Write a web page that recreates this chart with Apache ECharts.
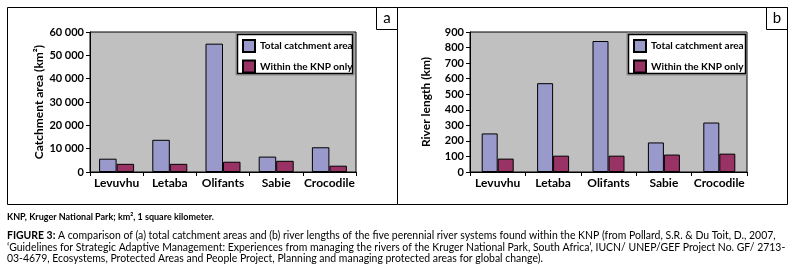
<!DOCTYPE html>
<html>
<head>
<meta charset="utf-8">
<script src="https://cdn.jsdelivr.net/npm/echarts@6/dist/echarts.min.js"></script>
<style>
  html, body { margin: 0; padding: 0; background: #fff; }
  #chart { width: 798px; height: 275px; }
</style>
</head>
<body>
<div id="chart"></div>
<script>
const rivers = ["Levuvhu", "Letaba", "Olifants", "Sabie", "Crocodile"];
const seriesNames = ["Total catchment area", "Within the KNP only"];

// (a) catchment area, km²
const areaTotal = [5700, 13800, 55000, 6600, 10600];
const areaKnp = [3500, 3500, 4400, 4800, 2700];

// (b) river length, km
const lengthTotal = [248, 571, 842, 190, 318];
const lengthKnp = [86, 105, 105, 112, 118];

const areaTicks = { min: 0, max: 60000, interval: 10000 };
const lengthTicks = { min: 0, max: 900, interval: 100 };

const footnote = "KNP, Kruger National Park; km², 1 square kilometer.";
const captionLines = [
  "A comparison of (a) total catchment areas and (b) river lengths of the five perennial river systems found within the KNP (from Pollard, S.R. & Du Toit, D., 2007,",
  "‘Guidelines for Strategic Adaptive Management: Experiences from managing the rivers of the Kruger National Park, South Africa’, IUCN/ UNEP/GEF Project No. GF/ 2713-",
  "03-4679, Ecosystems, Protected Areas and People Project, Planning and managing protected areas for global change)."
];

const colors = ["#9999CC", "#993366"];
const font = "Lato";

const chart = echarts.init(document.getElementById("chart"));

function xAxisFor(gridIndex) {
  return {
    type: "category",
    gridIndex,
    data: rivers,
    axisLine: { lineStyle: { color: "#000", width: 1 } },
    axisTick: { show: true, length: 4, lineStyle: { color: "#000" } },
    axisLabel: { interval: 0, color: "#000", fontFamily: font, fontWeight: "bold", fontSize: 12, margin: 5 }
  };
}

function yAxisFor(gridIndex, ticks, name, gap, fmt) {
  return {
    type: "value",
    gridIndex,
    min: ticks.min,
    max: ticks.max,
    interval: ticks.interval,
    name,
    nameLocation: "middle",
    nameRotate: 90,
    nameGap: gap,
    nameTextStyle: { color: "#000", fontFamily: font, fontWeight: "bold", fontSize: 12 },
    axisLine: { show: true, lineStyle: { color: "#000", width: 1 } },
    axisTick: { show: true, length: 4, lineStyle: { color: "#000" } },
    axisLabel: { color: "#000", fontFamily: font, fontWeight: "bold", fontSize: 11, margin: 6, formatter: fmt },
    splitLine: { show: false }
  };
}

function barSeries(name, data, idx, color, width) {
  return {
    name,
    type: "bar",
    xAxisIndex: idx,
    yAxisIndex: idx,
    data,
    barWidth: width,
    barGap: "0%",
    itemStyle: { color, borderColor: "#000", borderWidth: 1 }
  };
}

function legendFor(left) {
  return {
    orient: "vertical",
    left,
    top: 39,
    padding: 0,
    itemWidth: 12,
    itemHeight: 12,
    itemGap: 6.5,
    data: seriesNames,
    selectedMode: false,
    icon: "rect",
    itemStyle: { borderColor: "#000", borderWidth: 2 },
    textStyle: { color: "#000", fontFamily: font, fontWeight: "bold", fontSize: 10 }
  };
}

function legendFrame(x, y, w, h) {
  return [
    { type: "rect", shape: { x: x - 1, y: y - 1, width: w + 2, height: h + 2 },
      style: { fill: null, stroke: "#888", lineWidth: 1 } },
    { type: "rect", shape: { x: x + 0.5, y: y + 0.5, width: w - 1, height: h - 1 },
      style: { fill: "#fff", stroke: "#000", lineWidth: 1.5 } }
  ];
}

function labelBox(x, letter) {
  return [
    { type: "rect", shape: { x, y: 7.5, width: 21, height: 22 },
      style: { fill: "#fff", stroke: "#000", lineWidth: 1 } },
    { type: "text", x: x + 10.5, y: 18.5,
      style: { text: letter, fill: "#000", font: "15px " + font, align: "center", verticalAlign: "middle" } }
  ];
}

function captionText(y, text) {
  return { type: "text", x: 7, y,
    style: { text, fill: "#000", font: "10.45px " + font, verticalAlign: "middle",
      rich: { b: { font: "bold 10.45px " + font, fill: "#000" } } } };
}

const spaced = (v) => String(v).replace(/\B(?=(\d{3})+(?!\d))/g, " ");

const option = {
  animation: false,
  textStyle: { fontFamily: font },
  grid: [
    { left: 90, top: 32, width: 266, height: 140, show: true, backgroundColor: "#C0C0C0", borderColor: "#000", borderWidth: 1 },
    { left: 470, top: 32, width: 277, height: 140, show: true, backgroundColor: "#C0C0C0", borderColor: "#000", borderWidth: 1 }
  ],
  xAxis: [xAxisFor(0), xAxisFor(1)],
  yAxis: [
    yAxisFor(0, areaTicks, "Catchment area (km²)", 45, spaced),
    yAxisFor(1, lengthTicks, "River length (km)", 38, (v) => v)
  ],
  legend: [legendFor(242), legendFor(633)],
  series: [
    barSeries(seriesNames[0], areaTotal, 0, colors[0], 17.5),
    barSeries(seriesNames[1], areaKnp, 0, colors[1], 17.5),
    barSeries(seriesNames[0], lengthTotal, 1, colors[0], 16),
    barSeries(seriesNames[1], lengthKnp, 1, colors[1], 16)
  ],
  graphic: [
    // panel frame
    { type: "rect", z: -10, shape: { x: 7.5, y: 7.5, width: 780, height: 197 },
      style: { fill: null, stroke: "#000", lineWidth: 1 } },
    { type: "line", shape: { x1: 397.5, y1: 7.5, x2: 397.5, y2: 204.5 },
      style: { stroke: "#000", lineWidth: 1 } },
    ...labelBox(376.5, "a"),
    ...labelBox(766.5, "b"),
    ...legendFrame(237, 34, 116, 40),
    ...legendFrame(628, 34, 118, 40),
    { type: "text", x: 7, y: 217,
      style: { text: footnote, fill: "#000", font: "bold 9px " + font, verticalAlign: "middle" } },
    captionText(236, "{b|FIGURE 3:} " + captionLines[0]),
    captionText(247.5, captionLines[1]),
    captionText(259, captionLines[2])
  ]
};

chart.setOption(option);
</script>
</body>
</html>
